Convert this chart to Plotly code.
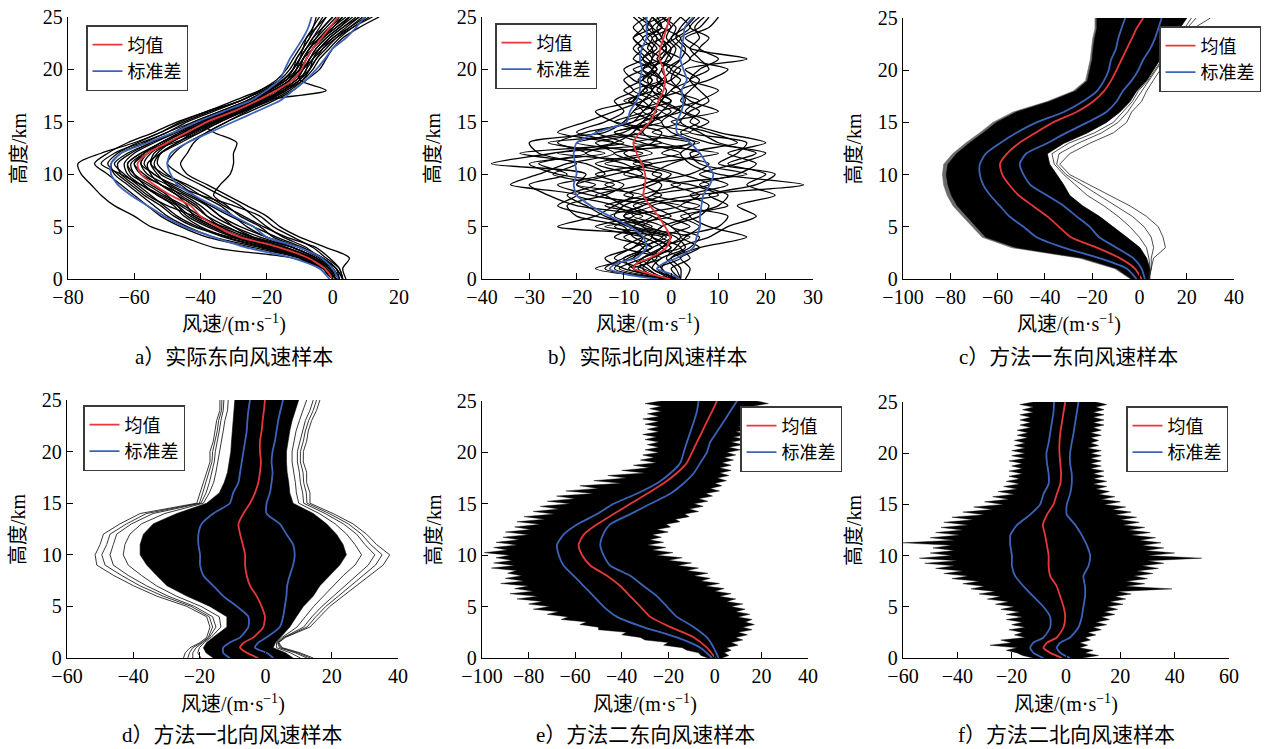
import plotly.graph_objects as go

# ---------------------------------------------------------------- heights (km)
alt_km = list(range(26))                              # 0, 1, ..., 25
alt_low = [0, 0.5, 1, 1.5, 2] + list(range(3, 26))    # finer near the ground
alt_quarter = [i / 4 for i in range(101)]             # 0, 0.25, ..., 25

# ---------------------------------------------------------------- a) measured east wind
mean_a = [0, -2.4, -7.4, -16, -28, -35, -40, -43, -49, -54, -58, -59, -56, -50, -44, -38,
          -30, -23, -17, -12, -9.4, -8, -6, -3.4, -0.9, 1.6]
lo_a = [-1, -4, -12, -26, -36, -45, -51, -56, -61, -65, -67, -67, -64, -56, -48, -41,
        -33, -25, -20, -16, -14.5, -13, -11, -9, -7.4, -6.4]
hi_a = [1.6, 0, -3.4, -10, -20, -24, -30, -36, -42, -47, -49, -50, -49, -44, -37, -30,
        -23, -16, -12, -8, -5, -2.4, 0, 4, 7, 9.7]
samples_a = [
    [1, -3, -12, -36, -45, -55, -60, -66, -70, -73, -76, -77, -70, -60, -52, -46, -38, -28, -22, -17, -14, -12, -10, -8, -5, -2],
    [2, -1, -5, -12, -22, -30, -36, -40, -45, -52, -57, -60, -57, -52, -46, -38, -30, -22, -15, -10, -8, -7, -4, 0, 4, 8],
    [3, 1, -3, -10, -18, -22, -28, -32, -36, -34, -31, -30, -30, -29, -36, -40, -32, -24, -18, -12, -9, -7, -5, -2, 2, 6],
    [0, -3, -9, -20, -32, -40, -45, -48, -53, -58, -62, -63, -60, -54, -47, -40, -31, -24, -18, -13, -10, -9, -7, -5, -3, 0],
    [1, -2, -6, -14, -25, -32, -38, -42, -47, -52, -55, -56, -52, -46, -40, -34, -27, -20, -14, -10, -8, -6, -4, -1, 3, 7],
    [2, 0, -4, -8, -15, -20, -24, -28, -34, -40, -46, -50, -48, -44, -38, -32, -26, -20, -15, -11, -7, -5, -3, 0, 5, 10],
    [0, -4, -10, -22, -36, -44, -50, -54, -58, -62, -66, -67, -64, -57, -50, -42, -34, -26, -20, -14, -12, -10, -8, -6, -4, -2],
    [3, 2, -2, -6, -12, -18, -22, -30, -40, -48, -54, -57, -55, -50, -43, -36, -28, -21, -16, -11, -9, -8, -6, -3, 1, 5],
    [1, -2, -8, -18, -30, -38, -44, -47, -50, -55, -60, -62, -58, -50, -44, -38, -30, -22, -2, -10, -10, -9, -7, -4, -1, 2],
    [2, 0, -6, -16, -26, -34, -40, -45, -51, -56, -61, -62, -58, -52, -46, -40, -33, -26, -20, -14, -10, -8, -6, -4, -1, 3],
    [1, -1, -5, -12, -24, -33, -41, -46, -52, -58, -64, -70, -66, -58, -50, -44, -36, -28, -21, -15, -12, -10, -9, -7, -6, -4],
    [4, 3, 5, -2, -10, -16, -20, -26, -32, -38, -44, -46, -44, -42, -38, -32, -25, -18, -12, -8, -4, -2, 0, 3, 8, 14],
    [0, -3, -9, -19, -30, -36, -42, -50, -56, -60, -64, -65, -61, -55, -48, -41, -33, -25, -18, -13, -11, -10, -8, -5, -2, 1],
    [2, -1, -6, -14, -24, -30, -34, -38, -44, -50, -56, -58, -56, -48, -40, -36, -28, -20, -16, -12, -9, -6, -3, 1, 6, 12],
    [1, -2, -7, -15, -27, -36, -42, -44, -47, -52, -58, -60, -56, -51, -45, -39, -31, -23, -17, -12, -9, -7, -5, -2, 2, 5],
    [2, 0, -5, -12, -20, -28, -34, -38, -42, -46, -52, -54, -52, -47, -42, -35, -28, -22, -17, -13, -10, -8, -6, -3, 0, 4],
    [1, -2, -8, -18, -28, -34, -38, -41, -46, -50, -53, -55, -53, -49, -43, -37, -29, -22, -17, -13, -11, -9, -7, -4, 0, 3],
    [3, 1, -4, -10, -20, -26, -30, -34, -40, -45, -50, -53, -52, -47, -41, -34, -27, -20, -14, -9, -6, -4, -1, 2, 6, 11],
    [0, -3, -10, -24, -38, -46, -52, -56, -60, -64, -68, -72, -68, -62, -54, -47, -38, -30, -22, -16, -13, -11, -9, -7, -5, -3],
    [2, -1, -7, -17, -29, -37, -43, -47, -53, -57, -60, -61, -57, -52, -45, -39, -32, -25, -19, -15, -12, -10, -8, -6, -3, 0],
    [1, -2, -9, -21, -33, -41, -47, -51, -55, -59, -63, -66, -62, -55, -48, -42, -34, -26, -19, -14, -11, -9, -6, -3, 1, 5],
    [2, 1, -3, -9, -17, -24, -31, -37, -43, -49, -54, -58, -56, -50, -42, -35, -27, -19, -13, -9, -7, -5, -2, 1, 5, 9],
    [0, -2, -7, -16, -31, -42, -48, -52, -57, -61, -65, -68, -65, -59, -52, -45, -37, -28, -21, -15, -12, -11, -9, -8, -6, -5],
    [3, 2, -1, -5, -14, -21, -27, -33, -38, -44, -51, -55, -54, -49, -43, -36, -28, -21, -15, -10, -7, -6, -4, -1, 3, 8],
]

# ---------------------------------------------------------------- b) measured north wind
mean_b = [-0.2, -4.5, -8, -7.3, -4.5, -1, -0.2, -1.3, -2.7, -4.5, -5.9, -5.5, -5.5, -6.2,
          -7.3, -8, -6.6, -4.5, -3.4, -2.7, -1.6, -1.3, -1.6, -2.5, -2.3, -1.6, -0.9, -0.4]
lo_b = [-3, -10, -13, -11.5, -7.3, -5.2, -5.9, -8.7, -13, -17, -20, -20.6, -20, -20.3,
        -20.6, -20, -15.7, -9.4, -8.7, -7.3, -6.6, -6.6, -6.2, -6.6, -6.2, -5.2, -5.2, -5.2]
hi_b = [1.9, -0.2, -3, -1.6, 1.2, 4.7, 5.4, 6.1, 6.1, 6.4, 6.8, 8.2, 8.9, 7.5,
        6.1, 4, 1.2, 1.2, 2.2, 2.6, 2.2, 3.3, 2.6, 1.9, 2.2, 2.6, 2.9, 4.7]
samples_b = [
    [0, -8, -6, -2, 2, 0, -4, -10, -14, -20, -18, -38, -25, -12, -8, -6, -4, -2, -1, -3, -2, -1, 0, -2, -1, 0],
    [2, -4, -2, 3, 1, -5, -10, -6, 5, 28, 10, 4, 2, 5, 0, -2, 1, 3, 2, 0, 1, 4, 2, 0, 3, 5],
    [-1, -12, -9, -4, 0, -8, -14, -18, -22, -16, -25, -20, -28, -30, -14, -10, -8, -6, -4, -5, -3, -6, -4, -3, -5, -4],
    [1, -2, 0, 6, 16, 8, 4, 10, 12, 6, 14, 18, 12, 20, 10, 4, 6, 2, 4, 6, 3, 16, 4, 2, 6, 8],
    [0, -16, -8, -6, -2, -24, -16, -12, -8, -14, -6, -10, -18, -12, -20, -14, -10, -12, -8, -10, -6, -4, -6, -8, -4, -6],
    [-2, -6, -4, 0, -4, -2, 4, 0, -6, 2, -4, 0, 6, -2, -6, -4, -2, 0, -3, -1, -2, 0, 1, -1, 0, 2],
    [1, -10, -14, -8, -6, -12, -6, -20, -26, -30, -22, -28, -18, -24, -18, -8, -6, -4, -8, -2, -4, -6, -3, -5, -2, -3],
    [2, 0, 4, 2, 8, 12, 18, 14, 22, 16, 20, 12, 18, 10, 6, 2, 4, 8, 6, 4, 8, 6, 4, 6, 5, 7],
    [-1, -8, -10, -4, -8, -10, -20, -22, -14, -10, -16, -6, -10, -4, -2, -12, -16, -8, -6, -4, -8, -2, -5, -4, -6, -2],
    [0, -4, -6, 2, -2, 4, -2, -8, -2, -6, 4, 8, -2, 4, -8, -4, 0, -4, 2, -2, -4, -2, 0, 2, -2, -4],
    [1, -14, -10, -6, -10, -4, -10, -4, -16, -6, -2, -14, -4, -12, -24, -18, -12, -6, -2, -6, -4, -2, -1, -3, -4, -1],
    [2, 2, 0, 4, 6, 0, 6, 8, 4, 12, 6, 14, 20, 8, 2, 6, 2, -2, 0, 2, -1, 2, 3, 1, 2, 4],
    [-1, -6, -12, -8, -4, -6, -12, -10, -4, -2, -8, -16, -6, -20, -10, -6, -2, -10, -4, -8, -10, -6, -8, -6, -8, -5],
    [0, -2, -4, -2, 0, -14, 0, -4, 10, 4, -10, -4, 10, -8, 4, -6, 2, -2, -6, 0, 2, -4, -2, 0, 1, -2],
    [1, -9, -4, 0, -4, -8, -4, -14, -6, -20, -12, -4, -24, -2, -12, -2, -6, 0, -4, -2, 0, -3, -1, -2, -3, 0],
    [3, 4, 2, 6, 2, 10, 12, 2, 6, 0, 16, 6, 4, 14, 8, 0, 10, 4, 2, 8, 12, 4, 6, 3, 8, 10],
    [-2, -5, -8, -4, -12, -8, -16, -24, -20, -34, -28, -22, -12, -16, -6, -10, -4, -6, -10, -6, -4, -8, -6, -8, -6, -8],
    [0, -8, -2, -10, -6, -2, -8, 2, -10, -4, 0, -8, 2, -6, -12, -4, -8, -2, -4, -2, -6, 0, -2, -4, 0, -2],
    [1, -3, 2, -2, 4, -6, -2, 6, -4, 8, 2, -6, -12, 6, -4, 2, -2, 6, 0, 4, 0, 2, -2, 1, 4, 2],
    [0, -11, -6, -2, -6, -16, -8, -12, -20, -12, -24, -30, -14, -26, -6, -12, -6, -8, -6, -4, -6, -4, -4, -6, -2, -4],
    [-1, -7, -3, -6, -1, -9, -13, -6, -17, -24, -14, -18, -32, -10, -16, -8, -3, -9, -5, -7, -3, -5, -7, -2, -4, -7],
    [2, 1, -1, 1, 3, 6, 2, 12, 8, 18, 22, 10, 14, 16, 4, 8, 3, 6, 10, 4, 6, 10, 6, 8, 4, 6],
]

# ---------------------------------------------------------------- c) method 1, east wind
mean_c = [0.9, -1.9, -8.3, -18, -29, -34, -39, -45, -51, -55, -58, -59, -56, -51, -44, -36.5,
          -26.6, -19.6, -15, -12, -9.7, -7.6, -5.5, -3.3, -1.2, 1.6]
lo_c = [-1.2, -5.4, -17, -32, -43.5, -49, -55, -59, -63, -66, -67.5, -67.5, -65, -59, -52, -43.5,
        -32, -24, -18, -15, -13, -12, -10, -9, -7.6, -6]
hi_c = [2.3, 0.9, -2.6, -9.7, -17, -21, -26.6, -32, -39, -46, -49, -50.6, -48, -39, -31, -22,
        -14, -9.7, -7, -3.3, -0.5, 1.6, 4.4, 6.5, 8, 9.4]
core_lo_c = [-3.3, -9.7, -24, -52, -65, -69, -73, -77, -79.5, -81, -81.7, -81, -77.4, -72, -66, -60.5,
             -52, -38, -27, -22, -21, -20, -19.6, -19, -18, -18]
fringe_lo_c = [-3.8, -10.5, -25.5, -54, -66.5, -70.8, -74.8, -78.8, -81.3, -82.8, -83.3, -82.8, -79, -73.6, -67.5, -62,
               -53.4, -39, -28, -22.8, -21.8, -20.8, -20.3, -19.8, -18.8, -18.8]
core_hi_c = [4.4, 4.4, 3, 0.2, -5.4, -11, -17, -24, -29.5, -32, -35, -38, -39, -32, -22, -14,
             -8.3, -4, -1.2, 3, 5.8, 8.7, 11.5, 14, 17, 20]
edge_lines_c = [
    [4, 5, 6, 11, 10, 8, 3, -4, -12.5, -21, -29.5, -33.7, -29.5, -21, -11, -5.4, -3.3, 0.9, 3, 5.8, 8.7, 12.9, 17, 20, 22.8, 30],
    [4, 5, 5, 6, 5, 2, -3, -10, -17, -24, -31, -35, -34, -26, -16, -9, -5, -2, 1, 4, 7, 10, 14, 17, 20, 24],
    [4, 4.5, 4, 3, 0, -4, -9, -15, -22, -27, -32, -36, -37, -30, -19, -11, -7, -3, -0.5, 3.5, 6.5, 9.5, 13, 16, 19, 22],
]

# ---------------------------------------------------------------- d) method 1, north wind
mean_d = [-2.2, -5.7, -7.7, -6.5, -3.7, -0.7, -0.2, -1.2, -2.7, -4.7, -5.7, -6.2, -6.2, -6.9,
          -7.7, -8.2, -6.7, -4.7, -3.2, -2.2, -1.7, -1.4, -1.7, -1.7, -1.2, -0.9, -0.5, -0.2]
lo_d = [-10.8, -12.8, -12.8, -10.8, -7.7, -5.2, -5.2, -8.7, -12.8, -15.8, -18.8, -19.8, -19.8, -20.3,
        -20.3, -19.3, -15.8, -10.8, -9.8, -8.2, -7.7, -7.2, -6.7, -6.2, -5.7, -5.5, -5.2, -4.7]
hi_d = [2.3, 0.3, -3.2, -2.2, 0.3, 4.3, 5.3, 5.8, 6.3, 6.5, 7.3, 8.3, 8.8, 8.3,
        6.3, 4.3, 0.3, 0.3, 1.3, 1.8, 2.1, 1.8, 2.1, 2.8, 3.3, 3.8, 4.5, 5.3]
core_lo_d = [-15.8, -18, -18.8, -17.8, -15.8, -11.7, -11.7, -16.8, -23.8, -29.8, -32.9, -35.9, -37.9, -37.9,
             -36.9, -33.9, -26.8, -17.8, -14, -12.5, -11.5, -11, -10.5, -10.3, -10, -9.8, -9.5, -9.3]
core_hi_d = [8.3, 6, 2.3, 3, 4.5, 7.3, 9.3, 11.4, 14.4, 16.4, 19.4, 22.4, 24.4, 23.4,
             21.4, 18.4, 14.4, 8.3, 7.3, 7, 6.5, 6.3, 6.3, 6.8, 7.3, 8, 9, 10]
edge_lines_d = [
    [-24.8, -24.3, -22.8, -19.8, -17.8, -16.8, -17.8, -23.8, -32.9, -39.9, -45.9, -51, -51.5, -50,
     -49, -44, -37.9, -20.8, -19.8, -18.8, -17.8, -16.8, -16.8, -15.8, -15.3, -14.8, -13.8, -13.8],
    [-23.5, -23, -22, -19.3, -17.3, -16, -17, -22.5, -31, -38, -43.5, -48.5, -49.5, -48,
     -47, -42, -36, -20, -19, -18, -17, -16.2, -16, -15.2, -14.6, -14.2, -13.3, -13.2],
    [-22, -22, -21, -19, -17, -15, -16, -21.5, -29.5, -36, -41.5, -46, -47, -46,
     -45, -40.5, -34, -19.5, -18, -17, -16.2, -15.5, -15.2, -14.5, -14, -13.5, -12.8, -12.6],
    [-19.5, -20.5, -20, -18.5, -16.5, -13.5, -14, -19.5, -27, -33, -37.5, -41.5, -43, -42.5,
     -41, -37.5, -30.5, -18.8, -17, -15.7, -15, -14.4, -14, -13.4, -12.8, -12.3, -11.5, -11.3],
    [14.4, 10.4, 5, 4, 6, 13.4, 16.4, 19.4, 23.4, 27.4, 31.5, 35.5, 37.5, 33.5,
     30.5, 26.4, 20.4, 13.4, 13.4, 12.4, 12.4, 11.4, 11.4, 12.4, 12.9, 13.9, 15.4, 16.4],
    [13.5, 9.7, 4.6, 3.8, 5.8, 12.5, 15.2, 18.2, 22, 25.7, 29.5, 33.2, 35.2, 31.7,
     29, 25, 19.2, 12.5, 12.3, 11.5, 11.3, 10.5, 10.5, 11.4, 12, 13, 14.4, 15.4],
    [12.5, 9, 4.2, 3.6, 5.5, 11.5, 14, 17, 20.5, 24, 27.5, 31, 33, 30,
     27.5, 23.5, 18, 11.5, 11.2, 10.5, 10.2, 9.6, 9.6, 10.4, 11, 12, 13.4, 14.4],
    [10.5, 7.5, 3.3, 3.3, 5, 9.5, 12, 14.5, 17.5, 20.5, 23.5, 27, 29, 27,
     24.5, 21, 16.2, 10, 9.3, 9, 8.5, 8, 8, 8.7, 9.2, 10.2, 11.4, 12.4],
]

# ---------------------------------------------------------------- e) method 2, east wind
mean_e = [0.2, -3.4, -9, -19, -27.7, -32, -36.3, -40.6, -46.3, -53.5, -57, -58.5, -56.3, -50.6, -43.5, -36.3,
          -29, -22, -16.3, -12, -9.8, -7.7, -5.5, -3.4, -1.2, 0.9]
lo_e = [-1.2, -6.2, -16.3, -30.6, -42, -47.8, -52, -56.3, -60.6, -65, -67, -67.8, -65, -59, -50.6, -43.5,
        -33.4, -24.8, -19, -14.8, -13.4, -12, -10.5, -9, -7.7, -7]
hi_e = [1.6, -0.5, -3.4, -9, -16.3, -20.6, -24.8, -30.6, -36.3, -45, -47.8, -49.2, -48, -45, -36.3, -27.7,
        -19, -13.4, -9, -6.2, -3.4, -2, 0.9, 3.8, 6.6, 9.5]
# outer edges of the sample cloud every 0.25 km
env_lo_e = [-3, -6, -7, -12, -14, -22, -20, -30, -32, -40, -38, -50, -50, -58, -55, -66,
            -63, -72, -67, -78, -71, -80, -74, -85, -76, -88, -78, -86, -80, -92, -82, -90,
            -83, -89, -85, -96, -86, -95, -87, -94, -88, -99, -89, -95, -85, -94, -84, -91,
            -80, -90, -79, -86, -75, -85, -73, -82, -69, -78, -67, -75, -62, -72, -60, -68,
            -52, -64, -50, -58, -40, -52, -38, -46, -30, -40, -28, -35, -25, -32, -26, -31,
            -24, -30, -24, -29, -24, -30, -25, -31, -24, -29, -24, -30, -24, -31, -24, -29,
            -23, -28, -23, -30, -23]
env_hi_e = [3, 6, 4, 7, 5, 10, 7, 12, 9, 14, 10, 16, 12, 17, 13, 16,
            10, 15, 9, 13, 7, 12, 5, 9, 2, 7, 0, 4, -4, 2, -6, -2,
            -9, -3, -12, -7, -16, -10, -20, -14, -25, -18, -27, -21, -29, -22, -28, -23,
            -27, -20, -25, -19, -21, -15, -17, -11, -13, -7, -11, -5, -9, -3, -7, -1,
            -4, 2, -2, 3, 0, 5, 1, 6, 2, 7, 2, 7, 3, 8, 4, 9,
            5, 11, 6, 12, 7, 13, 8, 14, 9, 15, 10, 17, 12, 18, 13, 19,
            14, 21, 16, 23, 18]

# ---------------------------------------------------------------- f) method 2, north wind
mean_f = [-1.5, -5.8, -8.3, -7, -3.4, -0.9, -0.3, -0.9, -2.1, -3.4, -5.8, -6.4, -6.4, -7,
          -7.7, -8.5, -7, -4.6, -3.4, -2.1, -1.8, -2.1, -2.4, -2.4, -2.1, -1.5, -0.9, -0.3]
lo_f = [-8.3, -12, -13.2, -12, -8.3, -5.8, -5.8, -8.3, -12, -15.6, -18.7, -19.9, -19.9, -20.5,
        -20.5, -18, -13.2, -9.5, -8.3, -6.4, -6.4, -7, -7.2, -6.4, -5.8, -5.2, -4.6, -4.4]
hi_f = [1.5, -2.1, -3.4, -2.1, 1.5, 4.6, 5.8, 6.4, 7, 7, 6.4, 8.3, 8.9, 7.7,
        5.8, 3.4, 0.3, 0.3, 1.5, 2.1, 2.1, 1.5, 1.5, 2.1, 2.8, 3.4, 4, 4.6]
env_lo_f = [-12, -16, -18, -22, -18, -28, -20, -24, -15, -19, -16, -21, -15, -20, -16, -22,
            -16, -22, -17, -24, -19, -26, -21, -29, -24, -32, -26, -35, -30, -38, -32, -42,
            -36, -45, -38, -48, -41, -52, -40, -54, -42, -50, -41, -49, -42, -60, -41, -50,
            -39, -48, -38, -46, -36, -45, -34, -42, -30, -38, -27, -34, -23, -30, -21, -27,
            -19, -25, -18, -23, -17, -22, -17, -21, -16, -21, -16, -20, -16, -21, -15, -20,
            -15, -20, -15, -19, -15, -19, -14, -18, -14, -18, -13, -17, -13, -17, -13, -17,
            -12, -16, -12, -17, -12]
env_hi_f = [6, 12, 7, 10, 5, 8, 5, 9, 7, 11, 8, 13, 10, 15, 11, 16,
            13, 18, 14, 19, 15, 21, 16, 22, 18, 24, 19, 39, 22, 29, 22, 30,
            25, 32, 26, 34, 28, 36, 30, 50, 30, 40, 29, 36, 28, 35, 27, 33,
            24, 31, 23, 29, 21, 27, 20, 26, 18, 24, 17, 22, 14, 20, 13, 18,
            12, 16, 11, 15, 10, 15, 10, 14, 10, 14, 9, 13, 9, 13, 9, 13,
            9, 13, 8, 12, 9, 12, 9, 13, 9, 13, 10, 14, 10, 14, 10, 14,
            10, 14, 11, 15, 11]

# ---------------------------------------------------------------- panel layout
x_ranges = {1: (-80, 20, 20), 2: (-40, 30, 10), 3: (-100, 40, 20),
            4: (-60, 40, 20), 5: (-100, 40, 20), 6: (-60, 60, 20)}
boxes_px = {1: (68, 399, 17, 279), 2: (482, 813, 17, 279), 3: (903, 1234, 18, 279),
            4: (67, 398, 400, 658), 5: (482, 808, 401, 658), 6: (903, 1229, 402, 658)}
# legend corner (x, y) and which side the x refers to
legend_px = {1: (86, 25, "left"), 2: (495, 23, "left"), 3: (1261, 26, "right"),
             4: (83, 405, "left"), 5: (740, 406, "left"), 6: (1228, 406, "right")}
captions = {1: "a）实际东向风速样本", 2: "b）实际北向风速样本", 3: "c）方法一东向风速样本",
            4: "d）方法一北向风速样本", 5: "e）方法二东向风速样本", 6: "f）方法二北向风速样本"}

W, H = 1274, 749
RED = "#e5383b"
BLUE = "#3d63b8"
SERIF = "'Times New Roman', 'Liberation Serif', 'DejaVu Serif', 'Noto Sans CJK SC', serif"

fig = go.Figure()


def axes_of(k):
    return ("x" if k == 1 else f"x{k}"), ("y" if k == 1 else f"y{k}")


def legend_of(k):
    return "legend" if k == 1 else f"legend{k}"


def add_line(k, x, y, color, width, shape="linear"):
    xa, ya = axes_of(k)
    fig.add_trace(go.Scatter(x=x, y=y, mode="lines", xaxis=xa, yaxis=ya, showlegend=False,
                             line=dict(color=color, width=width, shape=shape, smoothing=0.8),
                             hoverinfo="skip"))


def add_band(k, h, left, right, color, edge=0.6):
    xa, ya = axes_of(k)
    fig.add_trace(go.Scatter(x=list(left) + list(right)[::-1], y=list(h) + list(h)[::-1],
                             mode="lines", fill="toself", fillcolor=color,
                             line=dict(color=color, width=edge), xaxis=xa, yaxis=ya,
                             showlegend=False, hoverinfo="skip"))


def add_stats(k, h, mean, lo, hi):
    xa, ya = axes_of(k)
    lg = legend_of(k)
    fig.add_trace(go.Scatter(x=lo, y=h, mode="lines", name="标准差", legend=lg, legendrank=2,
                             line=dict(color=BLUE, width=1.8, shape="spline", smoothing=0.6),
                             xaxis=xa, yaxis=ya, showlegend=True, hoverinfo="skip"))
    fig.add_trace(go.Scatter(x=hi, y=h, mode="lines", name="标准差", legend=lg,
                             line=dict(color=BLUE, width=1.8, shape="spline", smoothing=0.6),
                             xaxis=xa, yaxis=ya, showlegend=False, hoverinfo="skip"))
    fig.add_trace(go.Scatter(x=mean, y=h, mode="lines", name="均值", legend=lg, legendrank=1,
                             line=dict(color=RED, width=1.8, shape="spline", smoothing=0.6),
                             xaxis=xa, yaxis=ya, showlegend=True, hoverinfo="skip"))


# a) measured east-wind profiles
for s in samples_a:
    add_line(1, s, alt_km, "black", 1.3, "spline")
add_stats(1, alt_km, mean_a, lo_a, hi_a)

# b) measured north-wind profiles
for s in samples_b:
    add_line(2, s, alt_km, "black", 1.3, "spline")
add_stats(2, alt_low, mean_b, lo_b, hi_b)

# c) method 1 east wind: dense sample band with thin outer members
add_band(3, alt_km, fringe_lo_c, core_hi_c, "#6a6a6a")
add_band(3, alt_km, core_lo_c, core_hi_c, "black")
for s in edge_lines_c:
    add_line(3, s, alt_km, "#202020", 0.8)
add_stats(3, alt_km, mean_c, lo_c, hi_c)

# d) method 1 north wind
add_band(4, alt_low, core_lo_d, core_hi_d, "black")
for s in edge_lines_d:
    add_line(4, s, alt_low, "#202020", 0.9)
add_stats(4, alt_low, mean_d, lo_d, hi_d)

# e) method 2 east wind
add_band(5, alt_quarter, env_lo_e, env_hi_e, "black", 0.4)
add_stats(5, alt_km, mean_e, lo_e, hi_e)

# f) method 2 north wind
add_band(6, alt_quarter, env_lo_f, env_hi_f, "black", 0.4)
add_stats(6, alt_low, mean_f, lo_f, hi_f)

# ---------------------------------------------------------------- axes, legends, labels
layout = dict(template="none", width=W, height=H, margin=dict(l=0, r=0, t=0, b=0, pad=0),
              paper_bgcolor="white", plot_bgcolor="white", showlegend=True,
              font=dict(family=SERIF, color="black", size=20))
annotations = []
for k in range(1, 7):
    x0, x1, y0, y1 = boxes_px[k]
    lo, hi, step = x_ranges[k]
    xa, ya = axes_of(k)
    axis_style = dict(showline=True, linecolor="black", linewidth=1.4, ticks="inside",
                      ticklen=6, tickwidth=1.4, tickcolor="black", showgrid=False,
                      zeroline=False, mirror=False, automargin=False,
                      tickfont=dict(family=SERIF, size=20, color="black"))
    layout["xaxis" if k == 1 else f"xaxis{k}"] = dict(
        domain=[x0 / W, x1 / W], anchor=ya, range=[lo, hi], dtick=step, tick0=0, **axis_style)
    layout["yaxis" if k == 1 else f"yaxis{k}"] = dict(
        domain=[1 - y1 / H, 1 - y0 / H], anchor=xa, range=[0, 25], dtick=5, tick0=0, **axis_style)
    lx, ly, side = legend_px[k]
    layout[legend_of(k)] = dict(x=lx / W, y=1 - ly / H, xanchor=side, yanchor="top",
                                xref="paper", yref="paper", bgcolor="white",
                                bordercolor="#3a3a3a", borderwidth=1.5,
                                font=dict(family=SERIF, size=18, color="black"),
                                itemwidth=30, tracegroupgap=0)
    cx = (x0 + x1) / 2
    row_top = k <= 3
    annotations.append(dict(text="风速/(m·s<sup>−1</sup>)", x=cx / W, y=1 - (323 if row_top else 703) / H,
                            xref="paper", yref="paper", showarrow=False,
                            xanchor="center", yanchor="middle",
                            font=dict(family=SERIF, size=20, color="black")))
    annotations.append(dict(text=captions[k], x=cx / W, y=1 - (357 if row_top else 735) / H,
                            xref="paper", yref="paper", showarrow=False,
                            xanchor="center", yanchor="middle",
                            font=dict(family=SERIF, size=21, color="black")))
    annotations.append(dict(text="高度/km", x=(x0 - 49) / W, y=1 - ((y0 + y1) / 2) / H,
                            xref="paper", yref="paper", showarrow=False, textangle=-90,
                            xanchor="center", yanchor="middle",
                            font=dict(family=SERIF, size=20, color="black")))
layout["annotations"] = annotations
fig.update_layout(**layout)

fig.write_html("out.html")
